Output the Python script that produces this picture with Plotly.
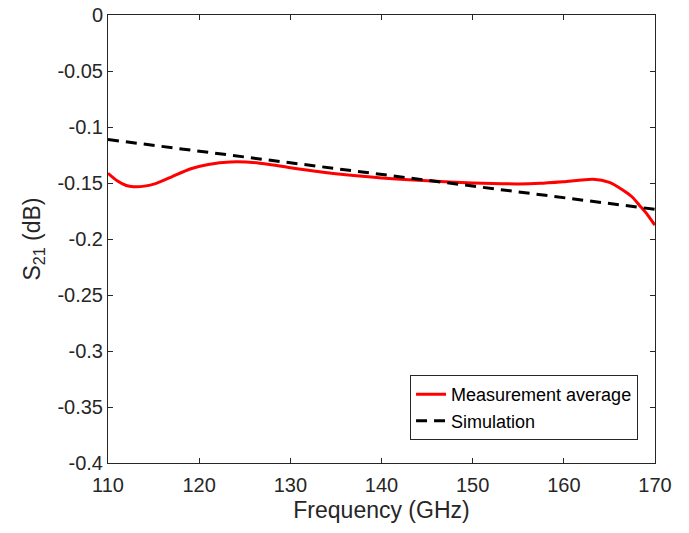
import plotly.graph_objects as go

meas_freq = [110, 111, 112, 112.8, 114, 115.3, 117, 119, 121, 123.4, 126.3, 130, 135,
             140, 145, 150, 155, 157.4, 160, 163.2, 165, 166.5, 167.5, 168.3, 169, 169.8, 170]
meas_s21 = [-0.1414, -0.148, -0.1522, -0.1533, -0.1528, -0.1503, -0.1445, -0.1375, -0.1335,
            -0.1312, -0.1319, -0.1363, -0.1418, -0.1455, -0.148, -0.150, -0.1508, -0.1503,
            -0.1488, -0.1467, -0.1495, -0.1565, -0.1625, -0.170, -0.1765, -0.1855, -0.1875]

# Simulation (straight line)
sim_freq = [110, 170]
sim_s21 = [-0.1112, -0.1735]

x_ticks = [110, 120, 130, 140, 150, 160, 170]
y_ticks = [0, -0.05, -0.1, -0.15, -0.2, -0.25, -0.3, -0.35, -0.4]
y_ticklabels = ["0", "-0.05", "-0.1", "-0.15", "-0.2", "-0.25", "-0.3", "-0.35", "-0.4"]

axis_col = "#262626"
font_fam = "Liberation Sans, Arial, sans-serif"

fig = go.Figure()
fig.add_trace(go.Scatter(
    x=meas_freq, y=meas_s21, mode="lines", name="Measurement average",
    line=dict(color="#ff0000", width=3, shape="spline", smoothing=0.6)
))
fig.add_trace(go.Scatter(
    x=sim_freq, y=sim_s21, mode="lines", name="Simulation",
    line=dict(color="black", width=3, dash="11px,7px")
))

axis_common = dict(
    showline=True, linecolor=axis_col, linewidth=1, mirror="ticks",
    ticks="inside", ticklen=5, tickcolor=axis_col, showgrid=False, zeroline=False,
    automargin=False,
    tickfont=dict(family=font_fam, size=20, color=axis_col),
)

fig.update_layout(
    width=689, height=533,
    margin=dict(l=108, r=34, t=15, b=70),
    paper_bgcolor="white", plot_bgcolor="white",
    showlegend=True,
    legend=dict(
        x=0.969, y=0.051, xanchor="right", yanchor="bottom",
        bordercolor=axis_col, borderwidth=1, bgcolor="white",
        font=dict(family=font_fam, size=18, color="black"),
        tracegroupgap=0, itemwidth=30,
    ),
    xaxis=dict(
        range=[110, 170], tickvals=x_ticks, ticklabelstandoff=4,
        title=dict(text="Frequency (GHz)", standoff=6,
                   font=dict(family=font_fam, size=23, color=axis_col)),
        **axis_common,
    ),
    yaxis=dict(
        range=[-0.4, 0], tickvals=y_ticks, ticktext=y_ticklabels,
        title=dict(text="S<sub>21</sub> (dB)", standoff=10,
                   font=dict(family=font_fam, size=23, color=axis_col)),
        **axis_common,
    ),
)

# drop the default page margin so the figure sits at the window's corner
fig.write_html("out.html", config={"displayModeBar": False},
               post_script="document.body.style.margin='0px';")
